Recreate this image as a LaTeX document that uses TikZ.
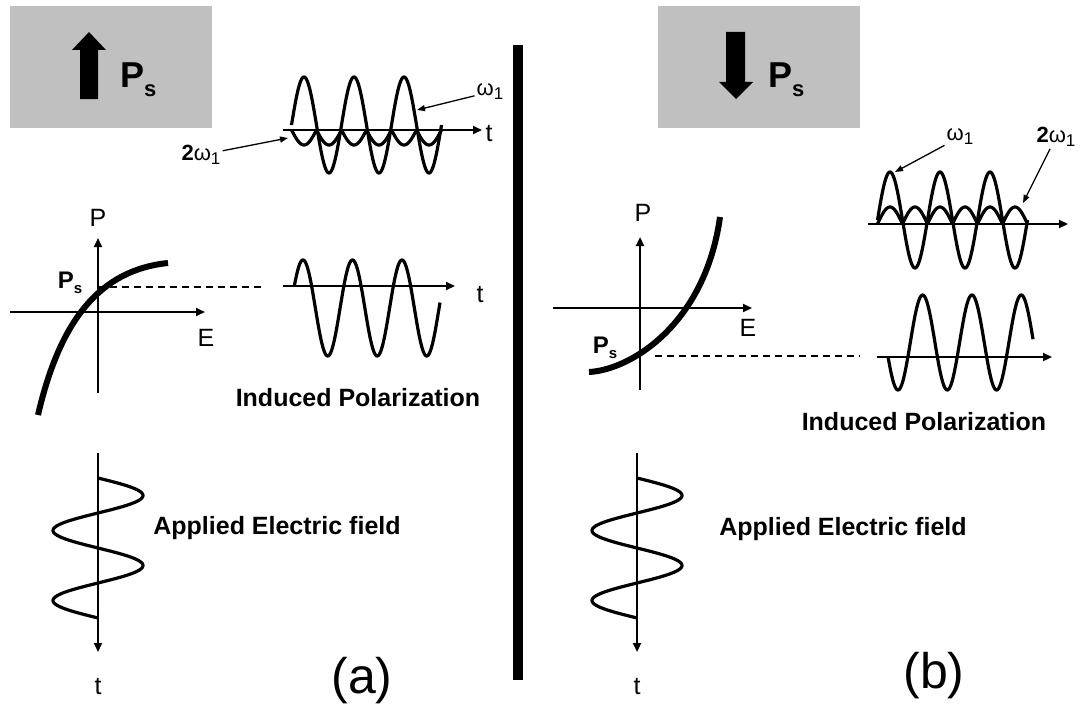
\documentclass[tikz,border=0pt]{standalone}
\usepackage{fontspec}
\setmainfont{Liberation Sans}
\usetikzlibrary{arrows.meta}

\definecolor{boxgrey}{RGB}{192,192,192}

\newcommand{\appliedfield}[2]{
		\begin{scope}[shift={(#1,0)}]

			% Time axis
			\draw[axis] (98,453) -- (98,652);

			% Field sine
			\draw[wave] plot[domain=478:618, samples=140]
			({98+45*sin(5.142857*(\x-478))}, \x);

			% Label
			\node[lbl] (t#2) at (98,687) {t};

		\end{scope}
	}

\newcommand{\wone}{ω\raisebox{-4pt}{\fontsize{17}{17}\selectfont 1}}

\begin{document}
\begin{tikzpicture}[
			x=1pt, y=-1pt,
			axis/.style={line width=2.2pt, -{Triangle[length=9pt,width=8pt]}},
			wave/.style={line width=3.2pt, line join=round},
			pecurve/.style={line width=6pt},
			pointer/.style={line width=1.3pt, -{Triangle[length=8pt,width=6pt]}},
			guide/.style={line width=2pt, dash pattern=on 7pt off 5pt},
			lbl/.style={font=\fontsize{25}{30}\selectfont, inner sep=1pt},
			caption/.style={font=\fontsize{25}{30}\selectfont\bfseries, inner sep=1pt},
			omega/.style={font=\fontsize{22}{26}\selectfont, inner sep=2pt}
			]

			\useasboundingbox (0,0) rectangle (1082,709);

			% Polarization boxes
			\fill[boxgrey] (10,6) rectangle (212,128);
			\fill (80,99) -- (80,50) -- (72,50) -- (89,32) -- (106,50)
			-- (98,50) -- (98,99) -- cycle;
			\node[anchor=base west, inner sep=0pt, font=\fontsize{36}{40}\selectfont\bfseries]
			(psA) at (120,88) {P\raisebox{-9pt}{\fontsize{22}{22}\selectfont s}};

			\fill[boxgrey] (658,6) rectangle (860,128);
			\fill (726,32) -- (726,82) -- (719,82) -- (736,99) -- (753,82)
			-- (745,82) -- (745,32) -- cycle;
			\node[anchor=base west, inner sep=0pt, font=\fontsize{36}{40}\selectfont\bfseries]
			(psB) at (768,88) {P\raisebox{-9pt}{\fontsize{22}{22}\selectfont s}};

			% Divider
			\draw[line width=10pt] (518,45) -- (518,680);

			% (a) harmonics
			\draw[axis] (283,130) -- (482,130);
			\draw[wave] plot[domain=291.5:441.5, samples=200]
			(\x, {125-48*sin(7.2*(\x-291.5))});
			\draw[wave] plot[domain=291.5:441.5, samples=200]
			(\x, {130+15*abs(sin(7.2*(\x-291.5)))});
			\node[lbl] (tA1) at (489,134) {t};

			\node[omega] (w1A) at (490,92) {\wone};
			\node[omega] (w2A) at (201,155) {\textbf{2}\wone};
			\coordinate (w1Atip) at (417,110);
			\coordinate (w2Atip) at (288,138);
			\draw[pointer] (w1A) -- (w1Atip);
			\draw[pointer] (w2A) -- (w2Atip);

			% (a) P-E curve
			\draw[axis] (10,312) -- (205,312);
			\draw[axis] (98,393) -- (98,238);
			\node[lbl] (pA) at (98,218) {P};
			\node[lbl] (eA) at (206,338) {E};
			\draw[pecurve] (38,415) .. controls (60,320) and (100,270) .. (168,263);
			\node[inner sep=0pt, font=\fontsize{24}{28}\selectfont\bfseries]
			(psgA) at (70,283) {P\raisebox{-5pt}{\fontsize{15}{15}\selectfont s}};
			\coordinate (psgAa) at (98,287);
			\coordinate (psgAb) at (263,287);
			\draw[guide] (psgAa) -- (psgAb);

			% (a) induced polarization
			\draw[axis] (283,286) -- (455,286);
			\draw[wave] plot[domain=294.3:440, samples=200]
			(\x, {308-48*sin(7.2727*(\x-290.6))});
			\node[lbl] (tA2) at (480,295) {t};
			\node[caption] (indA) at (358,398) {Induced Polarization};

			% (a) applied field
			\appliedfield{0}{A3}
			\node[caption] (fieldA) at (277,528) {Applied Electric field};
			\node[font=\fontsize{50}{56}\selectfont, inner sep=0pt] (capA) at (362,681) {(a)};

			% (b) harmonics
			\draw[axis] (868,224) -- (1068,224);
			\draw[wave] plot[domain=877.5:1027.5, samples=200]
			(\x, {220-48*sin(7.2*(\x-877.5))});
			\draw[wave] plot[domain=877.5:1027.5, samples=200]
			(\x, {224-17*abs(sin(7.2*(\x-877.5)))});

			\node[omega] (w1B) at (960,137) {\wone};
			\node[omega] (w2B) at (1056,137) {\textbf{2}\wone};
			\coordinate (w1Btip) at (895,172);
			\coordinate (w2Btip) at (1023,203);
			\draw[pointer] (w1B) -- (w1Btip);
			\draw[pointer] (w2B) -- (w2Btip);

			% (b) P-E curve
			\draw[axis] (553,308) -- (752,308);
			\draw[axis] (640,390) -- (640,237);
			\node[lbl] (pB) at (643,213) {P};
			\node[lbl] (eB) at (748,328) {E};
			\draw[pecurve] (589,372) .. controls (630,370) and (705,325) .. (720,217);
			\node[inner sep=0pt, font=\fontsize{24}{28}\selectfont\bfseries]
			(psgB) at (605,348) {P\raisebox{-5pt}{\fontsize{15}{15}\selectfont s}};
			\coordinate (psgBa) at (655,356);
			\coordinate (psgBb) at (860,356);
			\draw[guide] (psgBa) -- (psgBb);

			% (b) induced polarization
			\draw[axis] (877,357) -- (1052,357);
			\draw[wave] plot[domain=888:1033, samples=200]
			(\x, {342.5-47.5*sin(7.3022*(\x-910.3))});
			\node[caption] (indB) at (924,422) {Induced Polarization};

			% (b) applied field
			\appliedfield{539}{B3}
			\node[caption] (fieldB) at (843,529) {Applied Electric field};
			\node[font=\fontsize{50}{56}\selectfont, inner sep=0pt] (capB) at (934,676) {(b)};

		\end{tikzpicture}
\end{document}
